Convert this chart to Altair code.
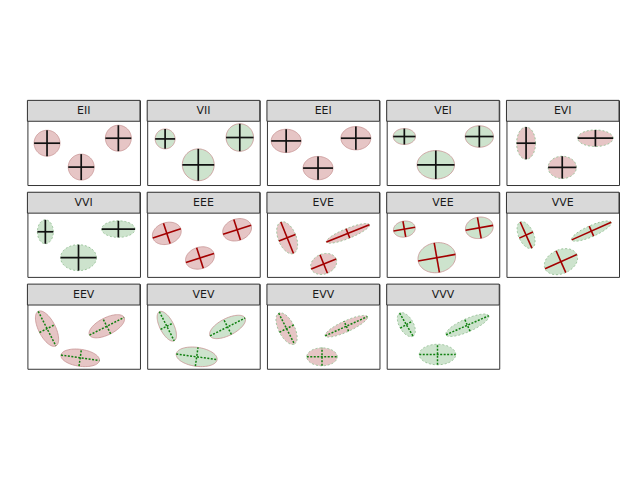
import numpy as np
import pandas as pd
import altair as alt

models = ["EII", "VII", "EEI", "VEI", "EVI",
          "VVI", "EEE", "EVE", "VEE", "VVE",
          "EEV", "VEV", "EVV", "VVV"]

# three ellipses per model: centre (cx, cy), semi-axis a along angle, semi-axis b across, angle (deg, ccw)
ell_model = [m for m in models for _ in range(3)]
ell_cx = [19.7, 54.0, 91.3,   18.0, 51.3, 93.0,   19.3, 51.3, 89.3,   17.7, 49.3, 93.0,   19.7, 56.0, 89.3,
          18.0, 51.3, 91.3,   19.7, 53.0, 90.3,   20.3, 81.3, 57.0,   17.7, 50.3, 93.0,   19.7, 85.3, 54.7,
          19.7, 79.7, 53.0,   19.7, 80.7, 49.7,   19.7, 79.7, 55.3,   19.7, 81.0, 51.0]
ell_cy = [22.0, 46.0, 17.0,   17.7, 43.7, 16.3,   19.7, 47.0, 17.0,   15.3, 43.7, 15.3,   22.0, 46.3, 17.0,
          18.7, 44.7, 16.0,   20.3, 45.0, 16.7,   24.7, 20.3, 51.0,   16.0, 44.7, 14.7,   22.0, 18.0, 48.7,
          23.7, 21.3, 53.0,   21.3, 22.0, 52.0,   23.7, 21.3, 52.0,   19.7, 20.3, 49.7]
ell_a = [13.0, 13.0, 13.0,   10.0, 16.0, 13.8,   15.0, 15.0, 15.0,   11.2, 18.8, 14.2,   9.5, 14.2, 17.8,
         8.0, 18.0, 16.7,    14.8, 14.8, 14.8,   9.0, 23.3, 13.5,    11.0, 19.0, 14.0,   7.5, 21.7, 17.5,
         19.5, 19.5, 19.5,   16.4, 19.75, 20.7,  17.4, 23.3, 15.3,   13.4, 23.5, 18.3]
ell_b = [13.0, 13.0, 13.0,   10.0, 16.0, 13.8,   11.7, 11.7, 11.7,   8.0, 14.3, 10.8,    16.2, 11.2, 8.3,
         12.0, 13.0, 8.3,    10.8, 10.8, 10.8,   17.0, 5.0, 10.0,    8.0, 15.0, 10.7,    14.4, 5.5, 12.0,
         8.5, 8.5, 8.5,      7.0, 8.5, 9.5,      8.0, 5.5, 9.0,      7.0, 6.5, 10.3]
ell_angle = [0, 0, 0,   0, 0, 0,   0, 0, 0,   0, 0, 0,   0, 0, 0,
             0, 0, 0,   18, 18, 18,   22, 22, 22,   10, 10, 10,   24, 24, 24,
             -63, 27, -8,   -63, 27, -8,   -63, 24.5, 0,   -60, 24, 0]

W, STRIP, PH = 113, 21, 64

poly_rows, seg_rows, lab_rows = [], [], []
t = np.linspace(0, 2 * np.pi, 73)
for i, m in enumerate(ell_model):
    th = np.deg2rad(ell_angle[i])
    ux, uy = np.cos(th), -np.sin(th)
    vx, vy = -np.sin(th), -np.cos(th)
    cx, cy, a, b = ell_cx[i], ell_cy[i], ell_a[i], ell_b[i]
    xs = cx + a * np.cos(t) * ux + b * np.sin(t) * vx
    ys = cy + a * np.cos(t) * uy + b * np.sin(t) * vy
    for k in range(len(t)):
        poly_rows.append(dict(kind="poly", model=m, vol=m[0], shape=m[1], orient=m[2],
                              eid=i, idx=k, x=xs[k], y=ys[k]))
    for (r, px, py) in ((a, ux, uy), (b, vx, vy)):
        seg_rows.append(dict(kind="seg", model=m, vol=m[0], shape=m[1], orient=m[2], eid=i,
                             x=cx - r * px, y=cy - r * py, x2=cx + r * px, y2=cy + r * py))
for m in models:
    lab_rows.append(dict(kind="label", model=m))

df = pd.concat([pd.DataFrame(poly_rows), pd.DataFrame(seg_rows), pd.DataFrame(lab_rows)],
               ignore_index=True)

xsc = alt.Scale(domain=[0, W], nice=False, zero=False)
ysc = alt.Scale(domain=[-STRIP, PH], nice=False, zero=False, reverse=True)
X = alt.X("x:Q", scale=xsc, axis=None)
Y = alt.Y("y:Q", scale=ysc, axis=None)


def panel(m):
    base = alt.Chart().transform_filter(alt.datum.model == m)

    def poly(cond):
        return base.transform_filter("datum.kind == 'poly' && " + cond)

    fill_E = poly("datum.vol == 'E'").mark_line(fill="#e6c5c5", stroke="transparent").encode(
        x=X, y=Y, detail="eid:N", order="idx:Q")
    fill_V = poly("datum.vol == 'V'").mark_line(fill="#cde3cd", stroke="transparent").encode(
        x=X, y=Y, detail="eid:N", order="idx:Q")
    out_solid = poly("datum.shape != 'V'").mark_line(
        stroke="#c79494", strokeWidth=1, strokeOpacity=0.8).encode(
        x=X, y=Y, detail="eid:N", order="idx:Q")
    out_dash = poly("datum.shape == 'V'").mark_line(
        stroke="#9cc59c", strokeWidth=1, strokeDash=[2, 2]).encode(
        x=X, y=Y, detail="eid:N", order="idx:Q")

    def seg(cond, **kw):
        return base.transform_filter("datum.kind == 'seg' && " + cond).mark_rule(**kw).encode(
            x=X, y=Y, x2="x2:Q", y2="y2:Q")

    seg_I = seg("datum.orient == 'I'", color="#111111", strokeWidth=1.7)
    seg_E = seg("datum.orient == 'E'", color="#a30000", strokeWidth=1.6)
    seg_V = seg("datum.orient == 'V'", color="#108010", strokeWidth=1.5, strokeDash=[2, 1.5])

    lab = base.transform_filter("datum.kind == 'label'")
    strip = lab.mark_rect(fill="#d9d9d9", stroke="#333333", strokeWidth=1).encode(
        x=alt.value(0), x2=alt.value(W), y=alt.value(0), y2=alt.value(STRIP))
    label = lab.mark_text(font="DejaVu Sans", fontSize=11, color="#1a1a1a",
                          baseline="middle", align="center").encode(
        x=alt.value(W / 2), y=alt.value(STRIP / 2 + 0.5), text="model:N")

    return alt.layer(fill_E, fill_V, out_solid, out_dash, seg_I, seg_E, seg_V, strip, label).properties(
        width=W, height=STRIP + PH)


chart = alt.concat(*[panel(m) for m in models], columns=5, spacing=7.25, bounds="flush",
                   data=df).properties(
    padding={"left": 18.5, "top": 91, "right": 0, "bottom": 0}
).configure_view(stroke="#333333", strokeWidth=1)

chart.save("out.html", embed_options={"renderer": "svg", "actions": False})
